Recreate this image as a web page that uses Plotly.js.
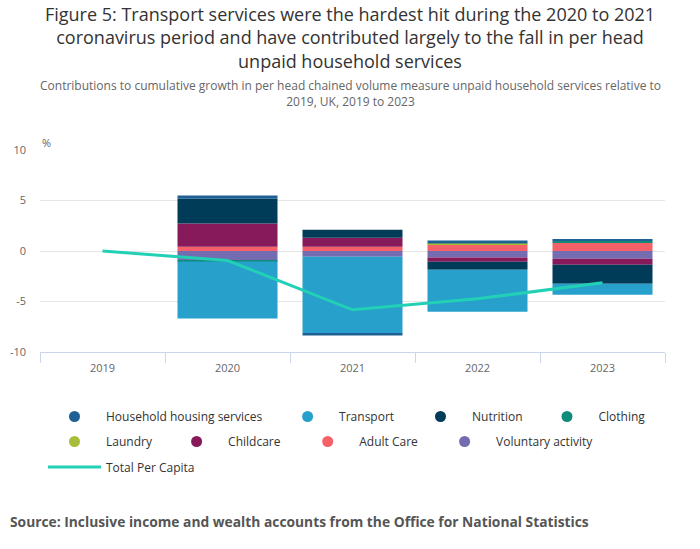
<!DOCTYPE html>
<html>
<head>
<meta charset="utf-8">
<script src="https://cdn.plot.ly/plotly-3.0.1.min.js"></script>
<style>html,body{margin:0;padding:0;background:#fff;}#chart{width:700px;height:549px;}</style>
</head>
<body>
<div id="chart"></div>
<script>
const years = ['2019', '2020', '2021', '2022', '2023'];
const housing = [0, 0.33, -0.24, 0.30, 0.10];
const transport = [0, -5.64, -7.56, -4.16, -1.09];
const nutrition = [0, 2.45, 0.79, -0.79, -1.88];
const clothing = [0, -0.10, 0, 0, 0.17];
const laundry = [0, 0, 0, 0.10, 0];
const childcare = [0, 2.30, 0.89, -0.43, -0.60];
const adultCare = [0, 0.42, 0.42, 0.64, 0.84];
const voluntary = [0, -0.94, -0.57, -0.64, -0.77];
const totalPerCapita = [0, -0.94, -5.82, -4.73, -3.15];

const yTickVals = [-10, -5, 0, 5, 10];
const yTickText = ['-10', '-5', '0', '5', '10'];

const seriesNames = ['Household housing services', 'Transport', 'Nutrition', 'Clothing',
  'Laundry', 'Childcare', 'Adult Care', 'Voluntary activity'];
const seriesValues = [housing, transport, nutrition, clothing, laundry, childcare, adultCare, voluntary];
const seriesColors = ['#206095', '#27a0cc', '#003c57', '#118c7b', '#a8bd3a', '#871a5b', '#f66068', '#746cb1'];
const lineName = 'Total Per Capita';
const lineColor = '#22d0b6';

// legend marker centre positions in px (x) and row centre (y)
const legendPos = [
  [74.5, 416.5], [307.6, 416.5], [440.5, 416.5], [567, 416.5],
  [74.5, 441.5], [196.6, 441.5], [327.7, 441.5], [464.6, 441.5],
  [74.5, 467]
];

const L = 40, R = 35, T = 150, B = 197, W = 700, H = 549;
const PW = W - L - R, PH = H - T - B;
const px2x = p => (p - L) / PW;
const py2y = p => (H - B - p) / PH;

const traces = [];
// bars: reverse order so first series ends farthest from zero
for (let i = seriesNames.length - 1; i >= 0; i--) {
  traces.push({
    type: 'bar', x: years, y: seriesValues[i], name: seriesNames[i],
    marker: {color: seriesColors[i], line: {width: 0}},
    width: 0.8, showlegend: false, legendgroup: 'g' + i, hoverinfo: 'none'
  });
}
// legend entries (circle markers)
for (let i = 0; i < seriesNames.length; i++) {
  traces.push({
    type: 'scatter', mode: 'markers', x: [null], y: [null], name: seriesNames[i],
    marker: {color: seriesColors[i], size: 11, symbol: 'circle'},
    legendgroup: 'g' + i, legend: i === 0 ? 'legend' : 'legend' + (i + 1), showlegend: true
  });
}
traces.push({
  type: 'scatter', mode: 'lines', x: years, y: totalPerCapita, name: lineName,
  line: {color: lineColor, width: 3}, legend: 'legend9', hoverinfo: 'none'
});

const layout = {
  width: W, height: H,
  margin: {l: L, r: R, t: T, b: B, pad: 0},
  paper_bgcolor: '#ffffff', plot_bgcolor: '#ffffff',
  font: {family: '"Open Sans", sans-serif', color: '#333333', size: 12},
  barmode: 'relative',
  hovermode: false,
  title: {
    text: 'Figure 5: Transport services were the hardest hit during the 2020 to 2021<br>coronavirus period and have contributed largely to the fall in per head<br>unpaid household services',
    font: {family: '"Open Sans", sans-serif', size: 18, color: '#333333'},
    x: 0.5, xref: 'container', xanchor: 'center',
    y: 1 - 21 / H, yref: 'container', yanchor: 'top'
  },
  xaxis: {
    type: 'category', range: [-0.5, 4.5],
    showline: true, linecolor: '#ccd6eb', linewidth: 1,
    ticks: 'outside', tickson: 'boundaries', ticklen: 10, tickcolor: '#ccd6eb', tickwidth: 1,
    ticklabelstandoff: 6,
    showgrid: false, zeroline: false,
    tickfont: {size: 11, color: '#666666'}, fixedrange: true
  },
  yaxis: {
    range: [-10, 10], tickvals: yTickVals, ticktext: yTickText,
    showgrid: true, gridcolor: '#e6e6e6', gridwidth: 1,
    zeroline: false, showline: false, ticks: '',
    ticklabelstandoff: 13,
    tickfont: {size: 11, color: '#666666'}, fixedrange: true
  },
  annotations: [
    {text: 'Contributions to cumulative growth in per head chained volume measure unpaid household services relative to<br>2019, UK, 2019 to 2023',
     xref: 'paper', yref: 'paper', x: px2x(350), y: py2y(93), xanchor: 'center', yanchor: 'middle',
     showarrow: false, font: {size: 12, color: '#666666'}},
    {text: '%', xref: 'paper', yref: 'paper', x: px2x(40), y: py2y(142), xanchor: 'left', yanchor: 'middle',
     showarrow: false, font: {size: 11, color: '#666666'}},
    {text: '<b>Source: Inclusive income and wealth accounts from the Office for National Statistics</b>',
     xref: 'paper', yref: 'paper', x: px2x(8), y: py2y(521.7), xanchor: 'left', yanchor: 'middle',
     showarrow: false, font: {size: 13.8, color: '#555555'}}
  ]
};

const ITEMW = 53;
for (let k = 0; k < legendPos.length; k++) {
  const key = k === 0 ? 'legend' : 'legend' + (k + 1);
  const offs = 5 + ITEMW / 2;
  layout[key] = {
    orientation: 'h', x: px2x(legendPos[k][0] - offs), y: py2y(legendPos[k][1]),
    xanchor: 'left', yanchor: 'middle', bgcolor: 'rgba(0,0,0,0)', borderwidth: 0,
    itemwidth: ITEMW, font: {size: 12, color: '#333333'}, itemclick: 'toggle'
  };
}

Plotly.newPlot('chart', traces, layout, {displayModeBar: false, staticPlot: false});
</script>
</body>
</html>
